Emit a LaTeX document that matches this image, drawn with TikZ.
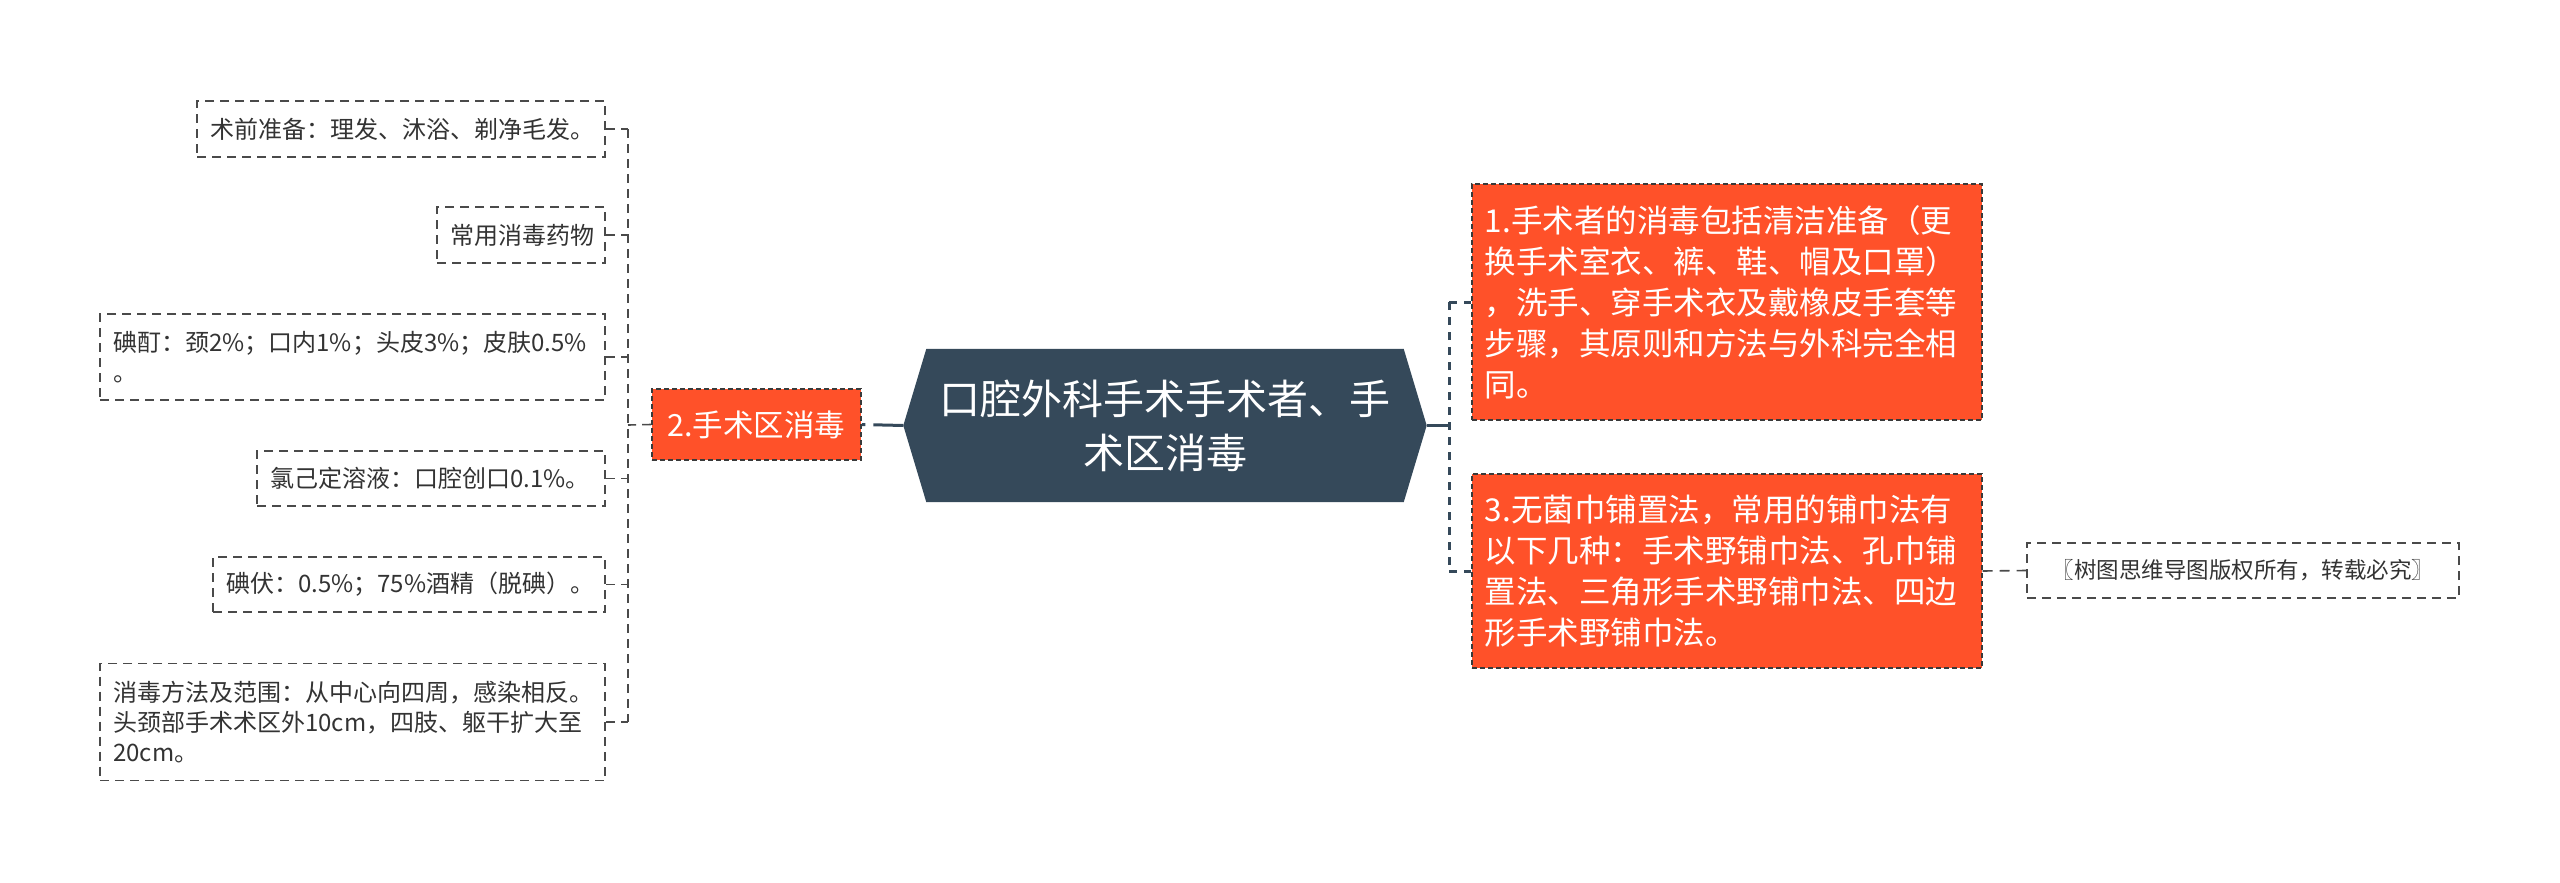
\documentclass[tikz,border=0pt]{standalone}
\usepackage{fontspec}
\setmainfont{Noto Sans CJK SC}
\pgfdeclarelayer{bg}
\pgfsetlayers{bg,main}
\definecolor{orangec}{HTML}{FF5129}
\definecolor{hexc}{HTML}{35495A}
\definecolor{leafline}{HTML}{4A4A4A}
\definecolor{leaftext}{HTML}{333333}
\definecolor{boxline}{HTML}{3A3A3A}
\begin{document}
\begin{tikzpicture}[x=1pt,y=-1pt,
  leaf/.style={draw=leafline, line width=1.6pt, dash pattern=on 9pt off 6pt, fill=white,
    text=leaftext, font=\fontsize{24}{30}\selectfont, align=left,
    inner xsep=13pt, inner ysep=0pt, anchor=east},
  obox/.style={draw=boxline, line width=1.6pt, dash pattern=on 5pt off 3pt, fill=orangec,
    text=white, font=\fontsize{31.5}{41}\selectfont, inner xsep=13pt, inner ysep=0pt},
  wmbox/.style={draw=leafline, line width=1.6pt, dash pattern=on 9pt off 6pt, fill=white,
    text=leaftext, font=\fontsize{22.5}{30}\selectfont, inner xsep=0pt, inner ysep=0pt},
  centre/.style={text=white, font=\fontsize{41}{54}\selectfont, align=center,
    minimum width=523pt, minimum height=153pt, inner sep=0pt},
  lconn/.style={draw=leafline, line width=1.6pt, dash pattern=on 9pt off 6pt},
  rconn/.style={draw=hexc, line width=3pt, dash pattern=on 8pt off 7pt},
  solidconn/.style={draw=hexc, line width=3pt},
]
\useasboundingbox (0,0) rectangle (2560,883);

% central topic
\node[centre] (c) at (1165,425.5) {口腔外科手术手术者、手\\术区消毒};
\begin{pgfonlayer}{bg}
\fill[hexc] (c.west) -- ([xshift=23pt]c.north west) -- ([xshift=-23pt]c.north east)
  -- (c.east) -- ([xshift=-23pt]c.south east) -- ([xshift=23pt]c.south west) -- cycle;
\end{pgfonlayer}

% left branch
\node[obox, font=\fontsize{30.5}{40}\selectfont, minimum width=209pt, minimum height=71pt] (b2) at (756.5,424.5) {2.手术区消毒};

\node[leaf, minimum width=408pt, minimum height=56pt, text width=382pt] (l1) at (606,129) {术前准备：理发、沐浴、剃净毛发。};
\node[leaf, minimum width=168pt, minimum height=56pt, text width=142pt] (l2) at (606,235) {常用消毒药物};
\node[leaf, minimum width=505pt, minimum height=86pt, text width=479pt] (l3) at (606,357) {碘酊：颈2\%；口内1\%；头皮3\%；皮肤0.5\%\\。};
\node[leaf, minimum width=348pt, minimum height=55pt, text width=322pt] (l4) at (606,478.5) {氯己定溶液：口腔创口0.1\%。};
\node[leaf, minimum width=392pt, minimum height=55pt, text width=366pt] (l5) at (606,584.5) {碘伏：0.5\%；75\%酒精（脱碘）。};
\node[leaf, minimum width=505pt, minimum height=117pt, text width=479pt] (l6) at (606,722) {消毒方法及范围：从中心向四周，感染相反。\\头颈部手术术区外10cm，四肢、躯干扩大至\\20cm。};

\coordinate (lj) at (628,425);
\draw[lconn] (b2.west) -- (lj);
\draw[lconn] (lj |- l1.east) -- (lj |- l6.east);
\foreach \n in {l1,l2,l3,l4,l5,l6}{
  \draw[lconn] (\n.east) -- (lj |- \n.east);
}
\draw[solidconn, dash pattern=on 30pt off 8pt] (c.west) -- (b2.east);

% right branch
\node[obox, anchor=west, minimum width=510pt, minimum height=236pt, text width=484pt, align=left] (r1) at (1471,302)
  {1.手术者的消毒包括清洁准备（更\\换手术室衣、裤、鞋、帽及口罩）\\，洗手、穿手术衣及戴橡皮手套等\\步骤，其原则和方法与外科完全相\\同。};
\node[obox, anchor=west, minimum width=510pt, minimum height=194pt, text width=484pt, align=left] (r3) at (1471,571)
  {3.无菌巾铺置法，常用的铺巾法有\\以下几种：手术野铺巾法、孔巾铺\\置法、三角形手术野铺巾法、四边\\形手术野铺巾法。};
\node[wmbox, anchor=west, minimum width=432pt, minimum height=55pt] (wm) at (2026,570.5) {〖树图思维导图版权所有，转载必究〗};

\coordinate (rj) at (1449,425.5);
\draw[solidconn] (c.east) -- (rj);
\draw[rconn] (rj |- r1.west) -- (rj |- r3.west);
\draw[rconn] (rj |- r1.west) -- (r1.west);
\draw[rconn] (rj |- r3.west) -- (r3.west);
\draw[lconn, dash pattern=on 10pt off 7pt] (r3.east) -- (wm.west);
\end{tikzpicture}
\end{document}
